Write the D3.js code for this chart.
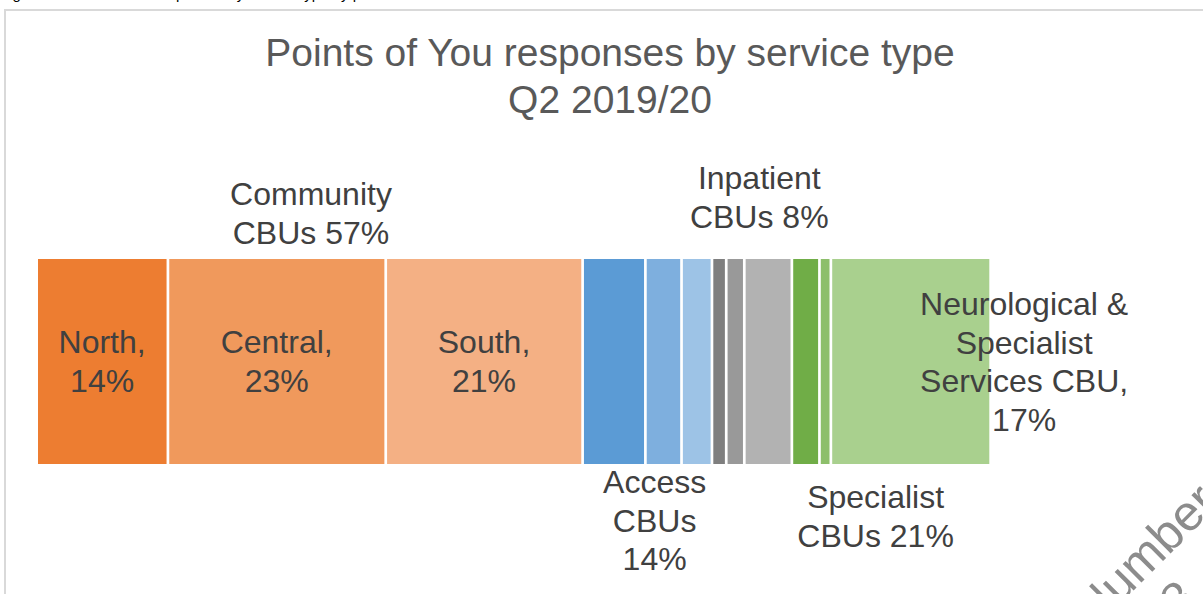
<!DOCTYPE html>
<html>
<head>
<meta charset="utf-8">
<script src="https://cdn.jsdelivr.net/npm/d3@7"></script>
<style>
  body { margin: 0; background: #fff; }
  svg { display: block; font-family: "Liberation Sans", Arial, sans-serif; }
</style>
</head>
<body>
<div id="chart"></div>
<script>
/*********************************************************/
// Data (percent of responses)
const period = "Q2 2019/20";
const segments = ["North", "Central", "South",
                  "Access A", "Access B", "Access C",
                  "Inpatient A", "Inpatient B", "Inpatient C",
                  "Specialist A", "Specialist B", "Neurological & Specialist Services CBU"];
const values = [13.8, 22.9, 20.7, 6.6, 3.8, 3.2, 1.5, 1.9, 5.0, 2.9, 1.2, 16.8];
const groupOf = ["Community", "Community", "Community",
                 "Access", "Access", "Access",
                 "Inpatient", "Inpatient", "Inpatient",
                 "Specialist", "Specialist", "Specialist"];
const segmentLabels = [["North,", "14%"], ["Central,", "23%"], ["South,", "21%"],
                       null, null, null, null, null, null, null, null,
                       ["Neurological &", "Specialist", "Services CBU,", "17%"]];
const groupNames = ["Community", "Access", "Inpatient", "Specialist"];
const groupLabels = [["Community", "CBUs 57%"], ["Access", "CBUs", "14%"],
                     ["Inpatient", "CBUs 8%"], ["Specialist", "CBUs 21%"]];
const titleLines = ["Points of You responses by service type", period];

/*********************************************************/
const svgWidth = 1203;
const svgHeight = 594;

const colours = ["#ED7D31", "#F0995C", "#F4B084",
                 "#5B9BD5", "#7EAFDE", "#9DC3E6",
                 "#7F7F7F", "#999999", "#B2B2B2",
                 "#70AD47", "#8DBF6B", "#A9D08E"];

const svg = d3.select("#chart")
  .append("svg")
  .attr("width", svgWidth)
  .attr("height", svgHeight);

// caption of the page above the chart, cut off at the top
svg.append("text")
  .attr("x", 0)
  .attr("y", -1)
  .attr("font-size", "15px")
  .attr("fill", "#000")
  .text("Figure 4: Points of You responses by service type by period");

// chart frame
svg.append("rect")
  .attr("x", 5)
  .attr("y", 10)
  .attr("width", 1400)
  .attr("height", 800)
  .attr("fill", "#fff")
  .attr("stroke", "#D9D9D9")
  .attr("stroke-width", 2);

/********** scales **********/
const total = d3.sum(values);
const xScale = d3.scaleLinear().domain([0, total]).range([38, 992]);
const yScale = d3.scaleBand().domain([period]).range([259, 464]);
const colour = d3.scaleOrdinal().domain(segments).range(colours);

let acc = 0;
const stacked = segments.map((s, i) => {
  const d = {name: s, value: values[i], start: acc, group: groupOf[i], label: segmentLabels[i]};
  acc += values[i];
  return d;
});

const gap = 2.7;

svg.append("g")
  .selectAll("rect")
  .data(stacked)
  .enter()
  .append("rect")
  .attr("x", d => xScale(d.start))
  .attr("y", yScale(period))
  .attr("width", d => xScale(d.start + d.value) - xScale(d.start) - gap)
  .attr("height", yScale.bandwidth())
  .attr("fill", d => colour(d.name));

/********** labels **********/
const lineH = 38.5;

function multiLine(g, lines, x, y) {
  const t = g.append("text")
    .attr("text-anchor", "middle")
    .attr("font-size", "32px")
    .attr("fill", "#404040");
  lines.forEach((l, i) => {
    t.append("tspan").attr("x", x).attr("y", y + i * lineH).text(l);
  });
  return t;
}

const labelG = svg.append("g");

// segment labels, inside the bar (neurological one pushed right)
stacked.forEach(d => {
  if (!d.label) return;
  const cx = xScale(d.start + d.value / 2);
  if (d.label.length > 2) {
    multiLine(labelG, d.label, cx + 112, 315);
  } else {
    multiLine(labelG, d.label, cx - 1.5, 353);
  }
});

// group labels above and below the bar
const groupPos = {
  Community: {dx: 0, y: 205},
  Access: {dx: 6, y: 493},
  Inpatient: {dx: 6, y: 189},
  Specialist: {dx: -17, y: 508}
};
groupNames.forEach((g, i) => {
  const members = stacked.filter(d => d.group === g);
  const s = members[0].start;
  const e = members[members.length - 1].start + members[members.length - 1].value;
  const cx = xScale((s + e) / 2) + groupPos[g].dx;
  multiLine(labelG, groupLabels[i], cx, groupPos[g].y);
});

/********** title **********/
const title = svg.append("text")
  .attr("text-anchor", "middle")
  .attr("font-size", "39px")
  .attr("fill", "#595959");
titleLines.forEach((l, i) => {
  title.append("tspan").attr("x", 610).attr("y", 66 + i * 47).text(l);
});

/********** watermark **********/
const wm = svg.append("text")
  .attr("transform", "translate(1122,602) rotate(-45)")
  .attr("font-size", "50px")
  .attr("fill", "#8C8C8C");
wm.append("tspan").attr("x", -40).attr("y", 0).text("Number");
wm.append("tspan").attr("x", 0).attr("y", 55).text("18");
</script>
</body>
</html>
